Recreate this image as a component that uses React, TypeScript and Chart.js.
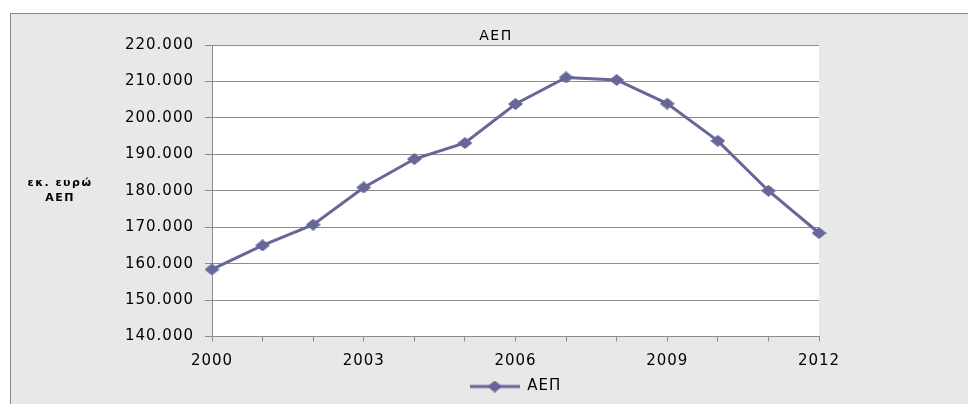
import React, { useEffect, useRef } from 'react';
import { Chart, registerables } from 'chart.js';

Chart.register(...registerables);

// ---- data ----
const years = ['2000', '2001', '2002', '2003', '2004', '2005', '2006', '2007', '2008', '2009', '2010', '2011', '2012'];
const gdp = [158400, 165000, 170700, 180900, 188700, 193100, 203800, 211100, 210400, 203900, 193700, 180000, 168400];
const yMin = 140000;
const yMax = 220000;
const yStep = 10000;
const labelEvery = 3;
const seriesName = 'ΑΕΠ';
const chartTitle = 'ΑΕΠ';
const yTitleLines = ['εκ. ευρώ', 'ΑΕΠ'];

// ---- style ----
const COLOR = '#666699';
const FONT = "'DejaVu Sans', sans-serif";
const LS = '1px';
const GRID = '#8c8c8c';

function fmt(v: number): string {
  const th = Math.floor(v / 1000);
  const rest = Math.round(v % 1000);
  return `${th}.${String(rest).padStart(3, '0')}`;
}

function makeMarker(w: number, h: number, withLine: boolean): HTMLCanvasElement {
  const c = document.createElement('canvas');
  c.width = w;
  c.height = h;
  const g = c.getContext('2d') as CanvasRenderingContext2D;
  if (withLine) {
    g.strokeStyle = COLOR;
    g.lineWidth = 3;
    g.beginPath();
    g.moveTo(0, h / 2);
    g.lineTo(w, h / 2);
    g.stroke();
  }
  const dw = 15;
  const cx = w / 2;
  g.fillStyle = COLOR;
  g.beginPath();
  g.moveTo(cx, 0);
  g.lineTo(cx + dw / 2, h / 2);
  g.lineTo(cx, h);
  g.lineTo(cx - dw / 2, h / 2);
  g.closePath();
  g.fill();
  return c;
}

const framePlugin = {
  id: 'frameAndTexts',
  beforeUpdate(chart: any) {
    chart.ctx.letterSpacing = LS;
  },
  beforeDraw(chart: any) {
    const ctx = chart.ctx;
    ctx.letterSpacing = LS;
    const { width, height, chartArea: a } = chart;
    ctx.save();
    ctx.fillStyle = '#ffffff';
    ctx.fillRect(0, 0, width, height);
    ctx.fillStyle = '#e8e8e8';
    ctx.fillRect(10, 13, width - 10, height - 13);
    ctx.strokeStyle = '#888888';
    ctx.lineWidth = 1;
    ctx.beginPath();
    ctx.moveTo(10.5, height);
    ctx.lineTo(10.5, 13.5);
    ctx.lineTo(width, 13.5);
    ctx.stroke();
    ctx.fillStyle = '#ffffff';
    ctx.fillRect(a.left, a.top, a.right - a.left, a.bottom - a.top);
    ctx.restore();
  },
  afterDraw(chart: any) {
    const ctx = chart.ctx;
    const a = chart.chartArea;
    ctx.save();
    // title
    ctx.letterSpacing = '1.5px';
    ctx.font = `14px ${FONT}`;
    ctx.fillStyle = '#000';
    ctx.textAlign = 'center';
    ctx.textBaseline = 'middle';
    ctx.fillText(chartTitle, (chart.width + 22) / 2 + 1, 36);
    // y axis title (horizontal, two lines)
    ctx.letterSpacing = '1.5px';
    ctx.font = `bold 11px ${FONT}`;
    const midY = (a.top + a.bottom) / 2;
    const lh = 15;
    yTitleLines.forEach((t, i) => {
      ctx.fillText(t, 60, midY + (i - (yTitleLines.length - 1) / 2) * lh);
    });
    ctx.restore();
    ctx.letterSpacing = LS;
  },
};

export default function App() {
  const ref = useRef<HTMLCanvasElement>(null);
  useEffect(() => {
    if (!ref.current) return;
    const pointImg = makeMarker(15, 12, false);
    const legendImg = makeMarker(50, 12, true);
    const chart = new Chart(ref.current, {
      type: 'line',
      data: {
        labels: years,
        datasets: [
          {
            label: seriesName,
            data: gdp,
            borderColor: COLOR,
            backgroundColor: COLOR,
            borderWidth: 3,
            tension: 0,
            pointStyle: pointImg as any,
            pointRadius: 6,
            pointHoverRadius: 6,
          },
        ],
      },
      options: {
        animation: false,
        responsive: true,
        maintainAspectRatio: false,
        layout: { padding: { top: 45, right: 149, bottom: 0, left: 0 } },
        plugins: {
          title: { display: false },
          tooltip: { enabled: false },
          legend: {
            display: true,
            position: 'bottom',
            fullSize: false,
            labels: {
              usePointStyle: true,
              pointStyle: legendImg as any,
              pointStyleWidth: 50,
              padding: 9.5,
              color: '#000',
              font: { family: FONT, size: 15 },
            },
          },
        },
        scales: {
          x: {
            type: 'category',
            offset: false,
            afterFit: (s: any) => {
              s.height = 33;
            },
            grid: {
              display: true,
              drawOnChartArea: false,
              drawTicks: true,
              tickLength: 5,
              color: GRID,
            },
            border: { display: true, color: GRID, width: 1 },
            ticks: {
              autoSkip: false,
              maxRotation: 0,
              minRotation: 0,
              padding: 11,
              color: '#000',
              font: { family: FONT, size: 15 },
              callback: (_v: any, i: number) => (i % labelEvery === 0 ? years[i] : ''),
            },
          },
          y: {
            min: yMin,
            max: yMax,
            afterFit: (s: any) => {
              s.width = 212;
            },
            grid: {
              display: true,
              drawOnChartArea: true,
              drawTicks: true,
              tickLength: 7,
              color: GRID,
            },
            border: { display: true, color: GRID, width: 1 },
            ticks: {
              stepSize: yStep,
              padding: 11,
              color: '#000',
              font: { family: FONT, size: 15 },
              callback: (v: any) => fmt(Number(v)),
            },
          },
        },
      },
      plugins: [framePlugin],
    });
    return () => chart.destroy();
  }, []);
  return (
    <div style={{ position: 'absolute', left: 0, top: 0, width: 968, height: 404 }}>
      <canvas ref={ref} />
    </div>
  );
}
